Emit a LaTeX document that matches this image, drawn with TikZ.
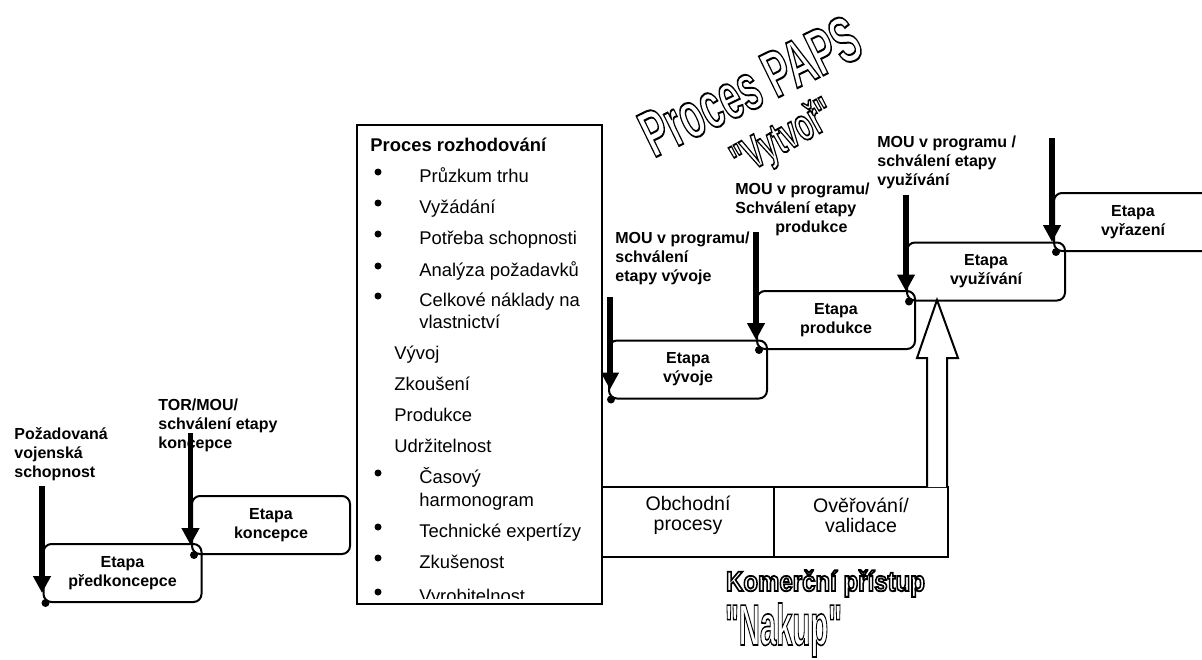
\documentclass[tikz,border=0pt]{standalone}
\usepackage{fontspec}
\usepackage{graphicx}
\setmainfont{Liberation Sans}
% same face without TeX quote mapping, so " stays straight
\newfontfamily\headfont{Liberation Sans}
\usetikzlibrary{arrows.meta,calc}

% stroked (unfilled) glyphs for the headline texts
\newcommand\hollowtext[1]{\special{pdf:literal direct 1 Tr 0.9 w}#1\special{pdf:literal direct 0 Tr}}

\tikzset{
  stage/.style={draw, line width=1pt, rounded corners=4pt, minimum width=79pt,
    minimum height=29pt, inner sep=0pt, align=center,
    font=\bfseries\fontsize{8}{9.5}\selectfont},
  gate/.style={anchor=base west, inner sep=0pt, align=left,
    font=\bfseries\fontsize{8}{9.3}\selectfont},
  gatearrow/.style={line width=2.6pt, -{Triangle[length=8.5pt,width=8.5pt]}, shorten >=5pt},
  item/.style={anchor=base west, inner sep=0pt, font=\fontsize{9.2}{11}\selectfont},
  bulletdot/.style={circle, fill=black, inner sep=0pt, minimum size=3.5pt},
  cell/.style={draw, line width=1pt, inner sep=0pt, minimum height=35pt},
  celltext/.style={align=center, inner sep=0pt, font=\fontsize{9.8}{10}\selectfont},
  headline/.style={inner sep=0pt},
}

\begin{document}
\begin{tikzpicture}[x=0.5pt,y=-0.5pt]
\useasboundingbox (0,0) rectangle (1202,659);
\fill[white] (0,0) rectangle (1202,659);
\clip (0,0) rectangle (1202,659);

% ---- decision process list ----
\node[draw, line width=1.2pt, minimum width=122.5pt, minimum height=239.5pt, inner sep=0pt]
  (decide) at (479.5,364.5) {};
\node[item, font=\bfseries\fontsize{9.2}{11}\selectfont] (decideTitle) at (370,151) {Proces rozhodování};
\begin{scope}
  \clip (359,127) rectangle (600,598);
  \foreach \x/\yb/\txt/\bul [count=\k] in {
      419/182/Průzkum trhu/1, 419/213/Vyžádání/1, 419/244/Potřeba schopnosti/1,
      419/276/Analýza požadavků/1, 419/306/Celkové náklady na/1, 419/328/vlastnictví/0,
      394/359/Vývoj/0, 394/390/Zkoušení/0, 394/421/Produkce/0, 394/452/Udržitelnost/0,
      419/483/Časový/1, 419/506/harmonogram/0, 419/537/Technické expertízy/1,
      419/568/Zkušenost/1, 419/602/Vyrobitelnost/1} {
    \node[item] (line\k) at (\x,\yb) {\txt};
    \ifnum\bul=1 \node[bulletdot] (mark\k) at (378,\yb-10) {}; \fi
  }
\end{scope}

% ---- life-cycle stages ----
\node[stage] (pre) at (122.5,573) {Etapa\\předkoncepce};
\node[stage] (con) at (271,525)   {Etapa\\koncepce};
\node[stage] (dev) at (688,369.5) {Etapa\\vývoje};
\node[stage] (pro) at (836,320)   {Etapa\\produkce};
\node[stage] (use) at (986,271.5) {Etapa\\využívání};
\node[stage] (ret) at (1133,222)  {Etapa\\vyřazení};

% ---- decision gates (anchored at the baseline of the last line) ----
\node[gate] (gPre) at (14,477)  {Požadovaná\\vojenská\\schopnost};
\node[gate] (gCon) at (158,448) {TOR/MOU/\\schválení etapy\\koncepce};
\node[gate] (gDev) at (615,281) {MOU v programu/\\schválení\\etapy vývoje};
\node[gate] (gPro) at (735,232) {MOU v programu/\\Schválení etapy\\\hspace*{20pt}produkce};
\node[gate] (gUse) at (877,185) {MOU v programu /\\schválení etapy\\využívání};

\foreach \b/\ax/\top in {pre/42/486, con/190.5/433, dev/610/297, pro/756/232, use/906/195, ret/1052/138} {
  \coordinate (\b-src) at (\ax,\top);
  \coordinate (\b-in) at ($(\b.south west)+(3,0)$);
  \draw[gatearrow] (\b-src) -- (\b-src |- \b-in);
  \fill (\b-in) circle (2pt);
}

% ---- commercial approach ----
\node[cell, minimum width=86pt] (trade)  at (688,522) {};
\node[cell, minimum width=87pt] (verify) at (861,522) {};
\node[celltext] (tradeText)  at (688,515) {Obchodní\\procesy};
\node[celltext] (verifyText) at (861,515) {Ověřování/\\validace};

\draw[line width=1pt, fill=white, line join=miter]
  (927,487) -- (927,358) -- (917,358) -- (937,300) -- (958,358) -- (947,358) -- (947,487);

% ---- headlines ----
\node[headline, rotate=26] (paps) at (750,86)
  {\resizebox{118pt}{23pt}{\headfont\fontsize{29}{30}\selectfont\bfseries\hollowtext{Proces PAPS}}};
\node[headline, rotate=29] (make) at (784,139)
  {\resizebox{55pt}{17pt}{\headfont\fontsize{22}{24}\selectfont\bfseries\hollowtext{"Vytvoř"}}};
\node[headline, anchor=base] (comm) at (825.5,591)
  {\resizebox{99.5pt}{10.5pt}{\headfont\fontsize{14}{16}\selectfont\bfseries\hollowtext{Komerční přístup}}};
\node[headline, anchor=base] (buy) at (783.5,645)
  {\resizebox{58.5pt}{21pt}{\headfont\fontsize{32}{34}\selectfont\bfseries\hollowtext{"Nakup"}}};
\end{tikzpicture}
\end{document}
